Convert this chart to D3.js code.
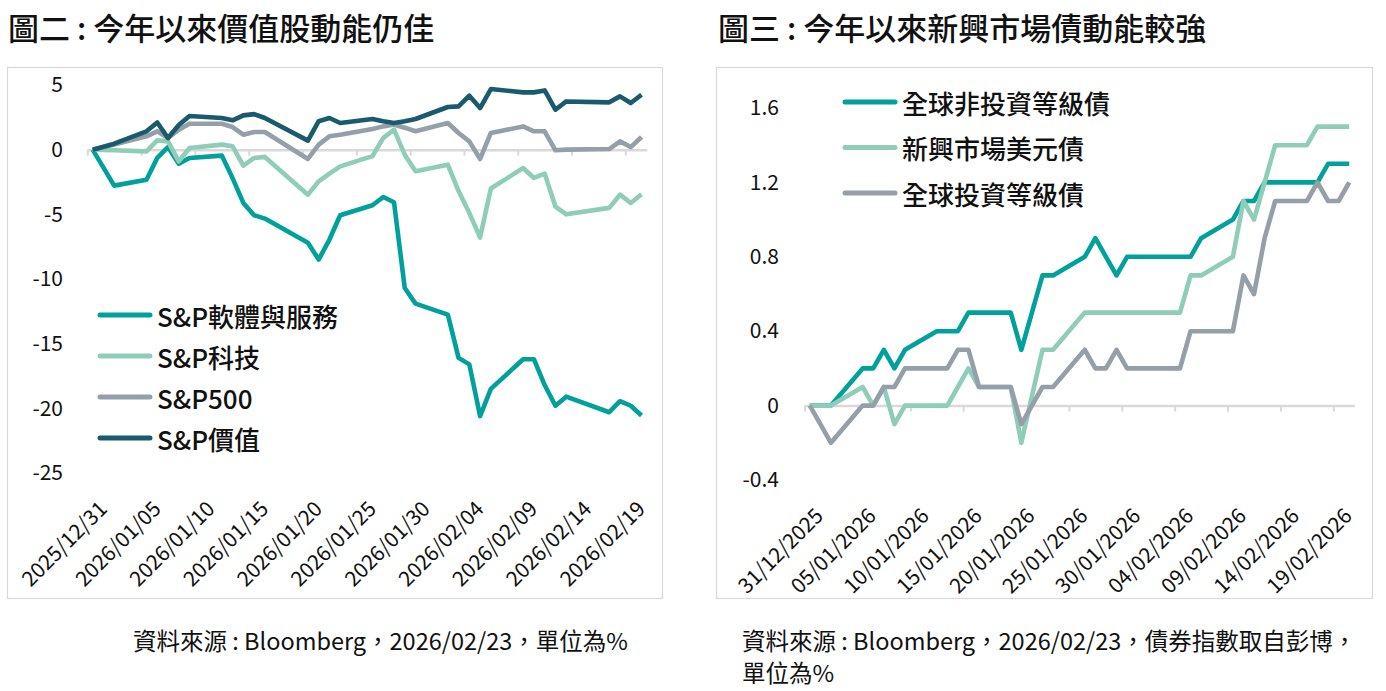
<!DOCTYPE html>
<html>
<head>
<meta charset="utf-8">
<script src="https://cdn.jsdelivr.net/npm/d3@7"></script>
<style>
    body { margin: 0; background: #fff; }
    svg { display: block; font-family: 'Noto Sans CJK TC', 'Noto Sans', sans-serif; }
</style>
</head>
<body>
<div id="chart-area"></div>
<script>
'use strict';

// left chart: S&P sector indices, % change since 2025/12/31 (trading days)
let stockDates = [
    '2025-12-31', '2026-01-02', '2026-01-05', '2026-01-06', '2026-01-07', '2026-01-08', '2026-01-09',
    '2026-01-12', '2026-01-13', '2026-01-14', '2026-01-15', '2026-01-16',
    '2026-01-20', '2026-01-21', '2026-01-22', '2026-01-23',
    '2026-01-26', '2026-01-27', '2026-01-28', '2026-01-29', '2026-01-30',
    '2026-02-02', '2026-02-03', '2026-02-04', '2026-02-05', '2026-02-06',
    '2026-02-09', '2026-02-10', '2026-02-11', '2026-02-12', '2026-02-13',
    '2026-02-17', '2026-02-18', '2026-02-19', '2026-02-20'
];
let software = [
    0, -2.78, -2.32, -0.64, 0.2, -1.08, -0.64,
    -0.46, -2.2, -4.12, -5.07, -5.33,
    -7.2, -8.5, -6.95, -5.07,
    -4.3, -3.66, -4.07, -10.7, -11.9,
    -12.75, -16.1, -16.6, -20.6, -18.5,
    -16.2, -16.2, -18.2, -19.8, -19.1,
    -20.3, -19.45, -19.8, -20.55
];
let tech = [
    0, -0.05, -0.13, 0.72, 0.64, -0.9, 0.13,
    0.39, 0.26, -1.24, -0.64, -0.56,
    -3.48, -2.45, -1.85, -1.29,
    -0.5, 0.9, 1.55, -0.39, -1.67,
    -1.16, -3.2, -4.9, -6.8, -3.0,
    -1.42, -2.19, -1.85, -4.4, -5.0,
    -4.5, -3.48, -4.12, -3.45
];
let sp500 = [
    0, 0.39, 1.03, 1.42, 0.9, 1.55, 2.0,
    2.0, 1.75, 1.16, 1.37, 1.37,
    -0.72, 0.39, 1.03, 1.16,
    1.6, 1.8, 1.95, 1.7, 1.42,
    2.06, 1.29, 0.64, -0.72, 1.29,
    1.8, 1.42, 1.42, -0.05, 0,
    0.05, 0.64, 0.2, 0.98
];
let value = [
    0, 0.46, 1.42, 2.1, 0.9, 1.9, 2.6,
    2.45, 2.27, 2.65, 2.75, 2.45,
    0.7, 2.2, 2.45, 2.06,
    2.37, 2.2, 2.06, 2.2, 2.37,
    3.3, 3.35, 4.17, 3.22, 4.69,
    4.43, 4.43, 4.58, 3.09, 3.73,
    3.66, 4.12, 3.61, 4.25
];
let stockNames = ['S&P軟體與服務', 'S&P科技', 'S&P500', 'S&P價值'];
let stockTicks = [5, 0, -5, -10, -15, -20, -25];

// right chart: bond indices, % change since 2025/12/31 (weekdays)
let bondDates = [
    '2025-12-31', '2026-01-01', '2026-01-02', '2026-01-05', '2026-01-06', '2026-01-07', '2026-01-08', '2026-01-09',
    '2026-01-12', '2026-01-13', '2026-01-14', '2026-01-15', '2026-01-16',
    '2026-01-19', '2026-01-20', '2026-01-21', '2026-01-22', '2026-01-23',
    '2026-01-26', '2026-01-27', '2026-01-28', '2026-01-29', '2026-01-30',
    '2026-02-02', '2026-02-03', '2026-02-04', '2026-02-05', '2026-02-06',
    '2026-02-09', '2026-02-10', '2026-02-11', '2026-02-12', '2026-02-13',
    '2026-02-16', '2026-02-17', '2026-02-18', '2026-02-19', '2026-02-20'
];
let highYield = [
    0, 0, 0, 0.2, 0.2, 0.3, 0.2, 0.3,
    0.4, 0.4, 0.4, 0.5, 0.5,
    0.5, 0.3, 0.5, 0.7, 0.7,
    0.8, 0.9, 0.8, 0.7, 0.8,
    0.8, 0.8, 0.8, 0.8, 0.9,
    1.0, 1.1, 1.1, 1.2, 1.2,
    1.2, 1.2, 1.3, 1.3, 1.3
];
let emDollar = [
    0, 0, 0, 0.1, 0, 0.1, -0.1, 0,
    0, 0, 0.1, 0.2, 0.1,
    0.1, -0.2, 0.05, 0.3, 0.3,
    0.5, 0.5, 0.5, 0.5, 0.5,
    0.5, 0.5, 0.5, 0.7, 0.7,
    0.8, 1.1, 1.0, 1.2, 1.4,
    1.4, 1.5, 1.5, 1.5, 1.5
];
let invGrade = [
    0, -0.1, -0.2, 0, 0, 0.1, 0.1, 0.2,
    0.2, 0.2, 0.3, 0.3, 0.1,
    0.1, -0.1, 0, 0.1, 0.1,
    0.3, 0.2, 0.2, 0.3, 0.2,
    0.2, 0.2, 0.2, 0.4, 0.4,
    0.4, 0.7, 0.6, 0.9, 1.1,
    1.1, 1.2, 1.1, 1.1, 1.2
];
let bondNames = ['全球非投資等級債', '新興市場美元債', '全球投資等級債'];
let bondTicks = [1.6, 1.2, 0.8, 0.4, 0, -0.4];

let colours = ['#00a19b', '#8fcdb9', '#949fa7', '#195a6d'];

let parse = d3.timeParse('%Y-%m-%d');
let firstDay = parse('2025-12-31');
let lastDay = parse('2026-02-20');

let svg = d3.select('#chart-area').append('svg')
    .attr('width', 1386)
    .attr('height', 691);

function drawPanel(p) {
    let g = svg.append('g');

    g.append('rect')
        .attr('x', p.box[0] + 0.5)
        .attr('y', p.box[1] + 0.5)
        .attr('width', p.box[2] - p.box[0])
        .attr('height', p.box[3] - p.box[1])
        .attr('fill', 'none')
        .attr('stroke', '#d9d9d9')
        .attr('stroke-width', 1.2);

    g.append('text')
        .attr('x', p.titleX)
        .attr('y', 26)
        .attr('dominant-baseline', 'central')
        .attr('font-size', '31px')
        .attr('font-weight', 500)
        .attr('fill', '#111')
        .text(p.title);

    let x = d3.scaleTime()
        .domain([d3.timeHour.offset(firstDay, -12), d3.timeHour.offset(lastDay, 12)])
        .range(p.xRange);

    let y = d3.scaleLinear()
        .domain([p.yTicks[p.yTicks.length - 1], p.yTicks[0]])
        .range(p.yRange);

    let labelDates = d3.range(0, 51, 5).map((k) => d3.timeDay.offset(firstDay, k));

    // zero line with small tick marks between days
    let zeroAxis = d3.axisBottom(x)
        .tickValues(labelDates.map((d) => d3.timeHour.offset(d, -12)))
        .tickSize(6)
        .tickSizeOuter(0)
        .tickFormat('');
    let za = g.append('g')
        .attr('transform', 'translate(0,' + y(0) + ')')
        .call(zeroAxis);
    za.select('.domain').attr('stroke', '#d9d9d9').attr('stroke-width', 2.5);
    za.selectAll('.tick line').attr('stroke', '#d9d9d9').attr('stroke-width', 2);

    // date labels at the bottom
    let dateAxis = d3.axisBottom(x)
        .tickValues(labelDates)
        .tickSize(0)
        .tickFormat(d3.timeFormat(p.dateFmt));
    let da = g.append('g')
        .attr('transform', 'translate(0,' + p.labelY + ')')
        .call(dateAxis);
    da.select('.domain').remove();
    da.selectAll('text')
        .attr('x', 0)
        .attr('y', 0)
        .attr('dy', '0.35em')
        .attr('text-anchor', 'end')
        .attr('font-size', '21px')
        .attr('fill', '#111')
        .attr('transform', 'translate(' + p.labelDx + ',0) rotate(-45)');
    da.attr('font-family', null).attr('font-size', null);

    let yAxis = d3.axisLeft(y)
        .tickValues(p.yTicks)
        .tickSize(0)
        .tickPadding(0)
        .tickFormat((d) => String(d));
    let ya = g.append('g')
        .attr('transform', 'translate(' + p.yLabelX + ',0)')
        .call(yAxis);
    ya.select('.domain').remove();
    ya.attr('font-family', null).attr('font-size', null);
    ya.selectAll('text')
        .attr('font-size', '21px')
        .attr('fill', '#111');

    let line = d3.line()
        .x((d) => x(d.date))
        .y((d) => y(d.v));

    p.series.forEach((s, i) => {
        let pts = p.dates.map((d, j) => ({ date: parse(d), v: s[j] }));
        g.append('path')
            .datum(pts)
            .attr('fill', 'none')
            .attr('stroke', colours[i])
            .attr('stroke-width', 4.6)
            .attr('stroke-linejoin', 'round')
            .attr('d', line);
    });

    let legend = g.selectAll('.legend')
        .data(p.names)
        .enter()
        .append('g')
            .attr('class', 'legend')
            .attr('transform', (d, i) => 'translate(' + p.legendX + ',' + (p.legendY + i * p.legendStep) + ')');
    legend.append('line')
        .attr('x1', 0)
        .attr('x2', 50)
        .attr('stroke', (d, i) => colours[i])
        .attr('stroke-width', 5)
        .attr('stroke-linecap', 'round');
    legend.append('text')
        .attr('x', 57)
        .attr('dominant-baseline', 'central')
        .attr('font-size', '26px')
        .attr('font-weight', 500)
        .attr('fill', '#111')
        .text((d) => d);

    g.selectAll('.note')
        .data(p.notes)
        .enter()
        .append('text')
            .attr('class', 'note')
            .attr('x', p.noteX)
            .attr('y', (d, i) => 640 + i * 32)
            .attr('dominant-baseline', 'central')
            .attr('font-size', '23.5px')
            .attr('fill', '#111')
            .text((d) => d);
}

drawPanel({
    box: [7, 67, 662, 598],
    title: '圖二 : 今年以來價值股動能仍佳',
    titleX: 8,
    xRange: [87.3, 646.9],
    yRange: [473, 85],
    yTicks: stockTicks,
    yLabelX: 63,
    labelY: 505,
    labelDx: 10,
    dateFmt: '%Y/%m/%d',
    dates: stockDates,
    series: [software, tech, sp500, value],
    names: stockNames,
    legendX: 100,
    legendY: 315,
    legendStep: 41,
    notes: ['資料來源 : Bloomberg，2026/02/23，單位為%'],
    noteX: 133
});

drawPanel({
    box: [716, 67, 1372, 598],
    title: '圖三 : 今年以來新興市場債動能較強',
    titleX: 718,
    xRange: [804.5, 1354.5],
    yRange: [480, 108],
    yTicks: bondTicks,
    yLabelX: 779,
    labelY: 512,
    labelDx: 9,
    dateFmt: '%d/%m/%Y',
    dates: bondDates,
    series: [highYield, emDollar, invGrade],
    names: bondNames,
    legendX: 845,
    legendY: 102,
    legendStep: 45.5,
    notes: ['資料來源 : Bloomberg，2026/02/23，債券指數取自彭博，', '單位為%'],
    noteX: 742
});
</script>
</body>
</html>
